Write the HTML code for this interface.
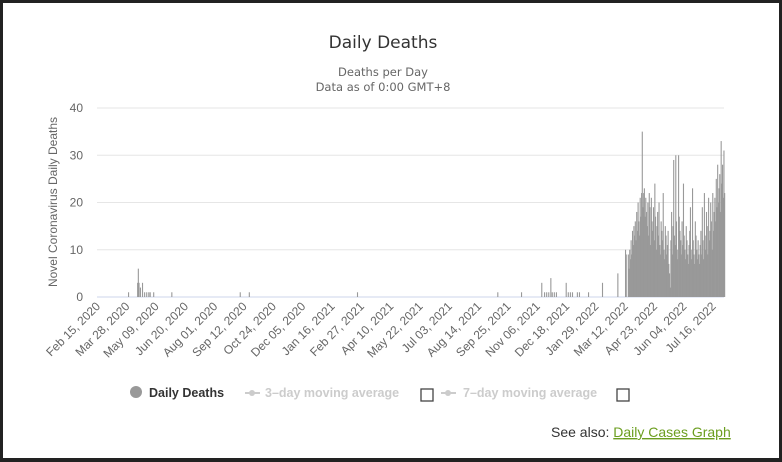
<!DOCTYPE html>
<html><head><meta charset="utf-8"><style>
html,body{margin:0;padding:0;background:#fff}
#frame{position:relative;width:776px;height:455px;border:3px solid #222;border-bottom-width:4px;overflow:hidden;background:#fff}
svg{position:absolute;left:-3px;top:-3px}
text{font-family:"Liberation Sans",sans-serif}
</style></head><body>
<div id="frame">
<svg id="chart" width="782" height="462" xmlns="http://www.w3.org/2000/svg">
<text x="383" y="48" text-anchor="middle" font-size="17" fill="#333" style="font-family:'DejaVu Sans',sans-serif">Daily Deaths</text>
<text x="383" y="76" text-anchor="middle" font-size="11.5" fill="#666" style="font-family:'DejaVu Sans',sans-serif">Deaths per Day</text>
<text x="383" y="91" text-anchor="middle" font-size="11.5" fill="#666" style="font-family:'DejaVu Sans',sans-serif">Data as of 0:00 GMT+8</text>
<text transform="translate(57,202) rotate(-90)" text-anchor="middle" font-size="12" fill="#666">Novel Coronavirus Daily Deaths</text>
<g id="grid"></g><g id="bars"></g><g id="xlabels"></g>
<g>
<g>
<circle cx="136" cy="392" r="6" fill="#999"/>
<text x="149" y="397" font-size="12.5" font-weight="bold" fill="#333">Daily Deaths</text></g>
<g>
<line x1="245" y1="393" x2="260" y2="393" stroke="#ccc" stroke-width="2"/><circle cx="252" cy="393" r="3" fill="#ccc"/>
<text x="265" y="397" font-size="12.5" font-weight="bold" fill="#ccc">3–day moving average</text></g>
<rect x="421" y="389" width="12" height="12" fill="#fff" stroke="#444" stroke-width="1.3"/>
<g>
<line x1="441" y1="393" x2="456" y2="393" stroke="#ccc" stroke-width="2"/><circle cx="448" cy="393" r="3" fill="#ccc"/>
<text x="463" y="397" font-size="12.5" font-weight="bold" fill="#ccc">7–day moving average</text></g>
<rect x="617" y="389" width="12" height="12" fill="#fff" stroke="#444" stroke-width="1.3"/>
</g>
<text x="551" y="437" font-size="14" fill="#333">See also: <tspan fill="#6b9e1f" text-decoration="underline">Daily Cases Graph</tspan></text>
</svg></div>
<script>
const yTicks=[0,10,20,30,40];
const xTickLabels=["Feb 15, 2020","Mar 28, 2020","May 09, 2020","Jun 20, 2020","Aug 01, 2020","Sep 12, 2020","Oct 24, 2020","Dec 05, 2020","Jan 16, 2021","Feb 27, 2021","Apr 10, 2021","May 22, 2021","Jul 03, 2021","Aug 14, 2021","Sep 25, 2021","Nov 06, 2021","Dec 18, 2021","Jan 29, 2022","Mar 12, 2022","Apr 23, 2022","Jun 04, 2022","Jul 16, 2022"];
// days since Feb 15, 2020
const sparseDays=[43,56,57,58,60,63,66,69,72,74,79,105,203,216,371,572,606,635,639,642,645,648,650,653,656,670,673,676,679,686,689,702,722,744,755,756];
const sparseValues=[1,3,6,3,2,3,1,1,1,1,1,1,1,1,1,1,1,3,1,1,1,4,1,1,1,3,1,1,1,1,1,1,3,5,10,9];
const denseStartDay=759;
const denseValues=[9,6,10,8,12,9,14,11,15,13,16,12,18,14,20,16,13,21,17,22,
35,
19,22,23,17,21,18,15,20,13,22,19,11,21,16,14,19,12,24,17,10,15,18,13,20,11,9,16,14,12,22,10,8,15,13,9,11,14,7,5,
2,
12,18,9,15,29,13,11,30,16,10,8,30,17,14,12,9,16,11,24,13,10,8,15,12,9,7,11,14,19,10,8,23,12,9,7,16,13,10,8,12,9,7,
11,14,9,19,12,8,22,13,10,18,15,9,21,12,14,20,16,10,22,14,18,21,16,25,19,28,20,23,26,18,33,24,28,21,31,22];
const NS="http://www.w3.org/2000/svg";
const x0=98,pxPerDay=0.698,y0=297,pxPerUnit=4.725;
function xs(d){return x0+d*pxPerDay;}
function ys(v){return y0-v*pxPerUnit;}
const grid=document.getElementById('grid');
yTicks.forEach(t=>{
 const l=document.createElementNS(NS,'line');
 l.setAttribute('x1',97);l.setAttribute('x2',724);l.setAttribute('y1',ys(t));l.setAttribute('y2',ys(t));
 l.setAttribute('stroke',t===0?'#ccd6eb':'#e6e6e6');l.setAttribute('stroke-width',1);
 
 
 grid.appendChild(l);
 const tx=document.createElementNS(NS,'text');
 tx.setAttribute('x',83);tx.setAttribute('y',ys(t)+4);tx.setAttribute('text-anchor','end');
 tx.setAttribute('font-size','12');tx.setAttribute('fill','#666');tx.textContent=t;
 
 
 grid.appendChild(tx);
});
const bars=document.getElementById('bars');
function bar(d,v){
 if(v<=0)return;
 const r=document.createElementNS(NS,'rect');
 r.setAttribute('x',xs(d));r.setAttribute('width',1.1);
 r.setAttribute('y',ys(v));r.setAttribute('height',v*pxPerUnit);r.setAttribute('fill','#999');
 
 
 bars.appendChild(r);
}
sparseDays.forEach((d,i)=>bar(d,sparseValues[i]));
denseValues.forEach((v,i)=>bar(denseStartDay+i,v));
const xl=document.getElementById('xlabels');
xTickLabels.forEach((lab,i)=>{
 const x=xs(i*42)+3;
 const tx=document.createElementNS(NS,'text');
 tx.setAttribute('transform','translate('+x+',307) rotate(-45)');
 tx.setAttribute('text-anchor','end');tx.setAttribute('font-size','12');tx.setAttribute('fill','#666');
 tx.textContent=lab;
 
 
 xl.appendChild(tx);
});
</script>
</body></html>
